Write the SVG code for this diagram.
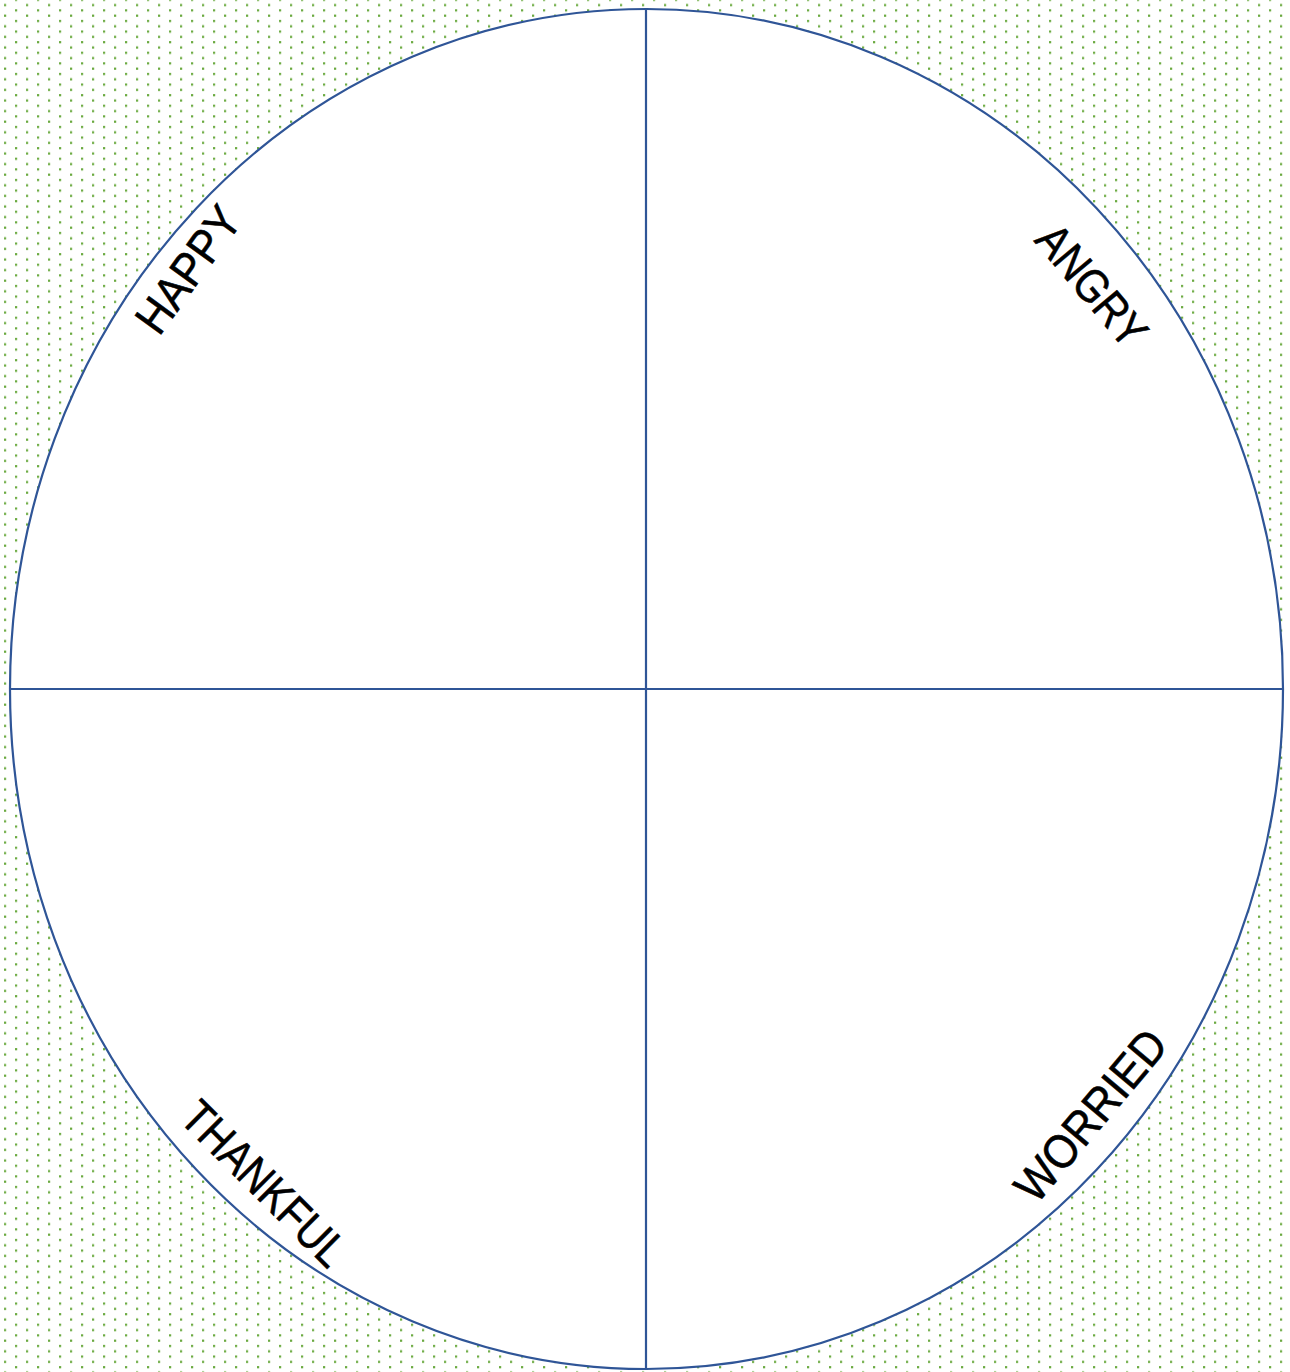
<svg xmlns="http://www.w3.org/2000/svg" width="1290" height="1372" viewBox="0 0 1290 1372">
  <defs>
    <pattern id="dots" width="22" height="10.6" patternUnits="userSpaceOnUse" patternTransform="translate(0,2.5)">
      <rect x="4" y="1.5" width="2.2" height="2.2" fill="#6aaa40"/>
      <rect x="15" y="6.8" width="2.2" height="2.2" fill="#6aaa40"/>
    </pattern>
    <style>
      .shape { fill: #ffffff; stroke: #2f5597; stroke-width: 2.2; }
      .line { stroke: #2f5597; stroke-width: 2.2; fill: none; }
      .label { font-family: "Liberation Sans", Arial, sans-serif; font-size: 47px; fill: #000000; stroke: #000000; stroke-width: 0.6; text-anchor: middle; }
    </style>
  </defs>
  <rect x="0" y="0" width="1290" height="1372" fill="#ffffff"/>
  <rect x="0" y="0" width="1290" height="1372" fill="url(#dots)"/>
  <g id="wheel">
    <ellipse class="shape" cx="646.5" cy="689" rx="636.5" ry="680"/>
  </g>
  <g id="connectors">
    <line class="line" x1="646" y1="9" x2="646" y2="1369"/>
    <line class="line" x1="10" y1="689" x2="1283" y2="689"/>
  </g>
  <g id="happy">
    <text class="label" transform="translate(187.5,269) rotate(-54)" x="0" y="17" textLength="144" lengthAdjust="spacingAndGlyphs">HAPPY</text>
  </g>
  <g id="angry">
    <text class="label" transform="translate(1092.5,285) rotate(50)" x="0" y="17" textLength="144" lengthAdjust="spacingAndGlyphs">ANGRY</text>
  </g>
  <g id="thankful">
    <text class="label" transform="translate(265,1183) rotate(45)" x="0" y="17" textLength="212" lengthAdjust="spacingAndGlyphs">THANKFUL</text>
  </g>
  <g id="worried">
    <text class="label" transform="translate(1090,1115) rotate(-50)" x="0" y="17" textLength="208" lengthAdjust="spacingAndGlyphs">WORRIED</text>
  </g>
</svg>
